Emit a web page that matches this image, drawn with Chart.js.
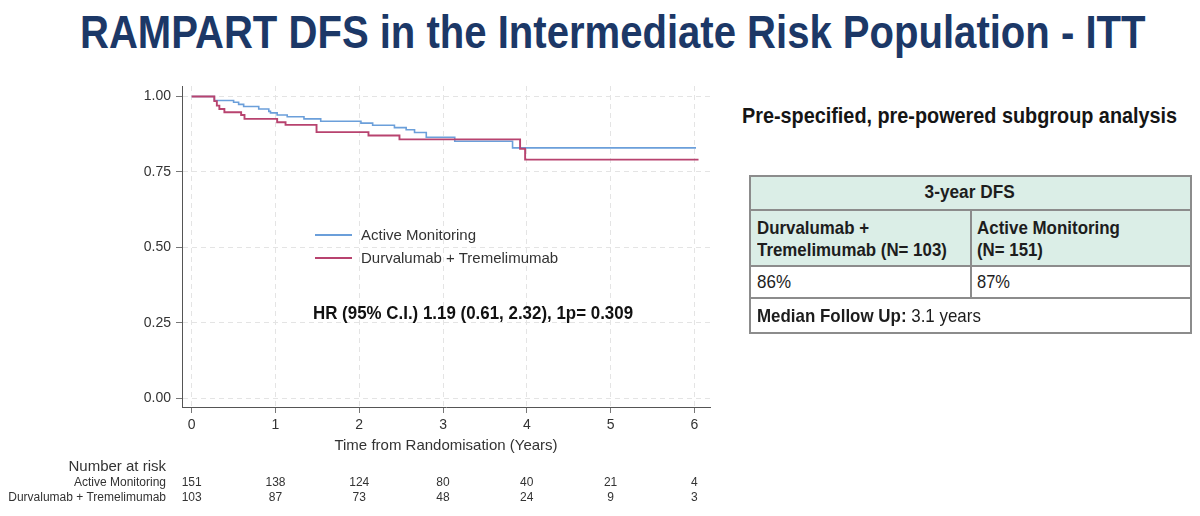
<!DOCTYPE html>
<html>
<head>
<meta charset="utf-8">
<title>RAMPART DFS - Intermediate Risk</title>
<script src="https://cdn.jsdelivr.net/npm/chart.js@4.4.0/dist/chart.umd.min.js"></script>
<style>
    html, body { margin: 0; padding: 0; background: #fff; }
    body {
        width: 1200px; height: 516px; position: relative; overflow: hidden;
        font-family: "Liberation Sans", Arial, sans-serif; color: #222;
    }
    #chartBox { position: absolute; left: 0; top: 0; width: 720px; height: 516px; }
    .txt { position: absolute; white-space: nowrap; }
    .fit { display: inline-block; transform-origin: left center; }
    .fit.mid { transform-origin: center center; }
    #title { left: 80px; top: 6px; font-size: 46px; line-height: 52px; font-weight: bold; color: #1c3867; }
    #subtitle { left: 742px; top: 103px; font-size: 22px; line-height: 26px; font-weight: bold; color: #151515; }
    #hr { left: 313px; top: 301px; font-size: 19px; line-height: 24px; font-weight: bold; color: #111; }
    .leg { font-size: 15px; line-height: 18px; color: #333; left: 361px; }
    .legLine { position: absolute; left: 315px; width: 37px; }
    #dfs {
        position: absolute; left: 749px; top: 175px; width: 443px; height: 159px;
        border: 2px solid #8c8c8c; box-sizing: border-box; background: #fff;
    }
    #dfs .fill { position: absolute; left: 0; top: 0; width: 100%; height: 89px; background: #dbeee7; }
    #dfs .h { position: absolute; left: 0; width: 100%; height: 2px; background: #8c8c8c; }
    #dfs .v { position: absolute; left: 219px; top: 32px; width: 2px; height: 90px; background: #8c8c8c; }
    .cell { font-size: 19px; line-height: 24px; color: #1d1d1d; }
    .risk { font-size: 12px; line-height: 14px; color: #333; }
</style>
</head>
<body>

<div id="title" class="txt"><span class="fit" data-w="1065">RAMPART DFS in the Intermediate Risk Population - ITT</span></div>
<div id="subtitle" class="txt"><span class="fit" data-w="435">Pre-specified, pre-powered subgroup analysis</span></div>

<div id="chartBox"><canvas id="km" width="720" height="516"></canvas></div>

<!-- leyenda dentro del gráfico -->
<div class="legLine" style="top:234px; height:1.6px; background:#6b9fda;"></div>
<div class="legLine" style="top:257px; height:1.9px; background:#b8436f;"></div>
<div class="txt leg" style="top:226px;">Active Monitoring</div>
<div class="txt leg" style="top:249px;">Durvalumab + Tremelimumab</div>
<div id="hr" class="txt"><span class="fit" data-w="320">HR (95% C.I.) 1.19 (0.61, 2.32), 1p= 0.309</span></div>

<!-- tabla 3-year DFS -->
<div id="dfs">
    <div class="fill"></div>
    <div class="h" style="top:32px;"></div>
    <div class="h" style="top:88px;"></div>
    <div class="h" style="top:120px;"></div>
    <div class="v"></div>
</div>
<div class="txt cell" style="left:870px; width:200px; text-align:center; top:180px;"><span class="fit mid" data-w="90"><b>3-year DFS</b></span></div>
<div class="txt cell" style="left:757px; top:216px;"><span class="fit" data-w="112"><b>Durvalumab +</b></span></div>
<div class="txt cell" style="left:757px; top:238px;"><span class="fit" data-w="190"><b>Tremelimumab (N= 103)</b></span></div>
<div class="txt cell" style="left:977px; top:216px;"><span class="fit" data-w="143"><b>Active Monitoring</b></span></div>
<div class="txt cell" style="left:977px; top:238px;"><span class="fit" data-w="66"><b>(N= 151)</b></span></div>
<div class="txt cell" style="left:757px; top:270px;"><span class="fit" data-w="34">86%</span></div>
<div class="txt cell" style="left:977px; top:270px;"><span class="fit" data-w="33">87%</span></div>
<div class="txt cell" style="left:757px; top:304px;"><span class="fit" data-w="224"><b>Median Follow Up:</b> 3.1 years</span></div>

<!-- número en riesgo -->
<div class="txt" style="right:1034px; top:457px; font-size:15px; line-height:18px; color:#333;">Number at risk</div>
<div class="txt risk" style="right:1034px; top:475px;">Active Monitoring</div>
<div class="txt risk" style="right:1034px; top:490px;">Durvalumab + Tremelimumab</div>
<div id="riskRows"></div>

<script>
    // Ticks de los ejes
    const xTicks = [0, 1, 2, 3, 4, 5, 6];
    const yTicks = [0, 0.25, 0.5, 0.75, 1];
    const yTickLabels = ['0.00', '0.25', '0.50', '0.75', '1.00'];

    // Curvas Kaplan-Meier (tiempo en años, supervivencia tras el evento)
    const activeTimes = [0, 0.27, 0.50, 0.56, 0.62, 0.80, 0.92, 0.94, 1.02, 1.14, 1.34, 1.54, 2.02, 2.16, 2.42, 2.56, 2.66, 2.80, 3.14, 3.83, 6.02];
    const activeSurv  = [1.0, 0.987, 0.981, 0.974, 0.967, 0.959, 0.951, 0.946, 0.939, 0.933, 0.926, 0.918, 0.912, 0.905, 0.897, 0.890, 0.881, 0.865, 0.852, 0.830, 0.830];

    const durvaTimes = [0, 0.27, 0.30, 0.33, 0.39, 0.59, 0.63, 1.02, 1.12, 1.49, 2.11, 2.48, 3.92, 3.98, 6.05];
    const durvaSurv  = [1.0, 0.985, 0.970, 0.959, 0.948, 0.939, 0.926, 0.915, 0.906, 0.882, 0.871, 0.858, 0.827, 0.791, 0.791];

    // Número en riesgo
    const atRiskActive = [151, 138, 124, 80, 40, 21, 4];
    const atRiskDurva  = [103, 87, 73, 48, 24, 9, 3];

    const toPoints = (t, s) => t.map((v, i) => ({ x: v, y: s[i] }));

    const gridOpts = {
        color: '#e4e4e4',
        lineWidth: 1,
        tickColor: '#777',
        tickLength: 6,
        tickBorderDash: []
    };

    const chart = new Chart(document.getElementById('km'), {
        type: 'line',
        data: {
            datasets: [{
                label: 'Active Monitoring',
                data: toPoints(activeTimes, activeSurv),
                borderColor: '#6b9fda',
                borderWidth: 1.6,
                stepped: 'before',
                pointRadius: 0,
                fill: false,
                order: 1
            }, {
                label: 'Durvalumab + Tremelimumab',
                data: toPoints(durvaTimes, durvaSurv),
                borderColor: '#b8436f',
                borderWidth: 1.9,
                stepped: 'before',
                pointRadius: 0,
                fill: false,
                order: 0
            }]
        },
        options: {
            responsive: false,
            animation: false,
            layout: { padding: { left: 0, top: 86, right: 10, bottom: 54 } },
            font: { family: '"Liberation Sans", Arial, sans-serif' },
            plugins: {
                legend: { display: false },
                tooltip: { enabled: false }
            },
            scales: {
                x: {
                    type: 'linear',
                    min: -0.116,
                    max: 6.187,
                    afterBuildTicks: s => { s.ticks = xTicks.map(v => ({ value: v })); },
                    afterFit: s => { s.height = 55; },
                    ticks: {
                        color: '#333', font: { size: 14 }, padding: 4,
                        autoSkip: false, maxRotation: 0,
                        callback: v => String(v)
                    },
                    grid: gridOpts,
                    border: { display: true, color: '#555', width: 1, dash: [5, 4] },
                    title: {
                        display: true,
                        text: 'Time from Randomisation (Years)',
                        color: '#333',
                        font: { size: 15 },
                        padding: { top: 0, bottom: 7 }
                    }
                },
                y: {
                    type: 'linear',
                    min: -0.029,
                    max: 1.035,
                    afterBuildTicks: s => { s.ticks = yTicks.map(v => ({ value: v })); },
                    afterFit: s => { s.width = 182; },
                    ticks: {
                        color: '#333', font: { size: 14 }, padding: 5,
                        callback: v => yTickLabels[yTicks.indexOf(v)]
                    },
                    grid: gridOpts,
                    border: { display: true, color: '#555', width: 1, dash: [5, 4] }
                }
            }
        }
    });

    // Filas de número en riesgo alineadas con el eje x
    const rows = document.getElementById('riskRows');
    [[atRiskActive, 475], [atRiskDurva, 490]].forEach(([vals, top]) => {
        vals.forEach((n, i) => {
            const d = document.createElement('div');
            d.className = 'txt risk';
            d.style.top = top + 'px';
            d.style.left = (chart.scales.x.getPixelForValue(xTicks[i]) - 30) + 'px';
            d.style.width = '60px';
            d.style.textAlign = 'center';
            d.textContent = n;
            rows.appendChild(d);
        });
    });

    // Ajustar el ancho de los textos al de la diapositiva
    document.querySelectorAll('.fit').forEach(el => {
        const w = el.getBoundingClientRect().width;
        const target = parseFloat(el.dataset.w);
        if (w > 0) el.style.transform = 'scaleX(' + (target / w).toFixed(3) + ')';
    });
</script>
</body>
</html>
